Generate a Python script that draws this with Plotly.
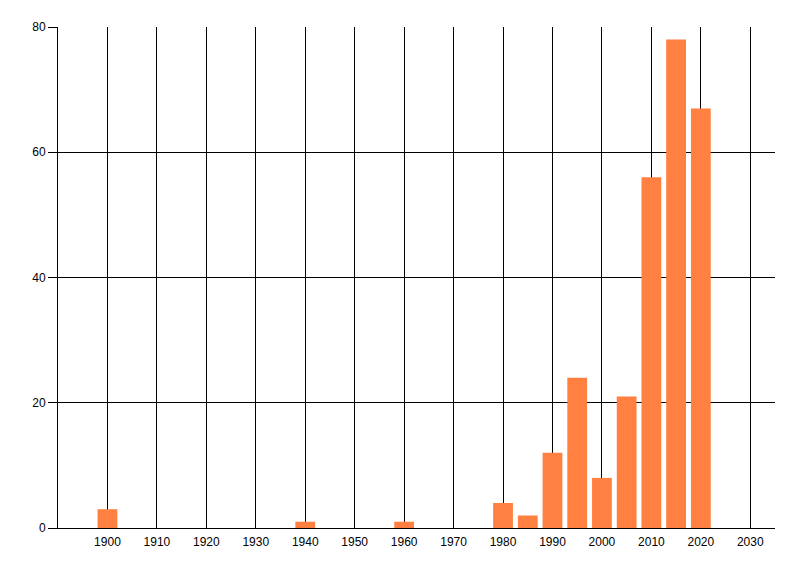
import plotly.graph_objects as go

years = [1900, 1940, 1960, 1980, 1985, 1990, 1995, 2000, 2005, 2010, 2015, 2020]
counts = [3, 1, 1, 4, 2, 12, 24, 8, 21, 56, 78, 67]
x_ticks = list(range(1900, 2031, 10))
y_ticks = [0, 20, 40, 60, 80]

fig = go.Figure(go.Bar(
    x=years, y=counts, width=4,
    marker=dict(color="#FF8040", line=dict(width=0)),
))

font = dict(family="Liberation Sans, Arial, sans-serif", size=12, color="black")

fig.update_layout(
    width=800, height=576,
    margin=dict(l=50, r=33, t=19, b=56),
    paper_bgcolor="white", plot_bgcolor="white",
    showlegend=False, font=font,
    xaxis=dict(
        range=[1890, 2035], tickvals=x_ticks, ticktext=[str(v) for v in x_ticks],
        showgrid=True, gridcolor="black", gridwidth=1,
        showline=True, linecolor="black", linewidth=1,
        ticks="", zeroline=False, tickfont=font, ticklabelstandoff=3,
    ),
    yaxis=dict(
        range=[0, 80], tickvals=y_ticks, ticktext=[str(v) for v in y_ticks],
        showgrid=True, gridcolor="black", gridwidth=1,
        showline=True, linecolor="black", linewidth=1,
        ticks="outside", ticklen=9, tickcolor="black", tickwidth=1,
        zeroline=False, tickfont=font,
    ),
)

fig.write_html("out.html")
